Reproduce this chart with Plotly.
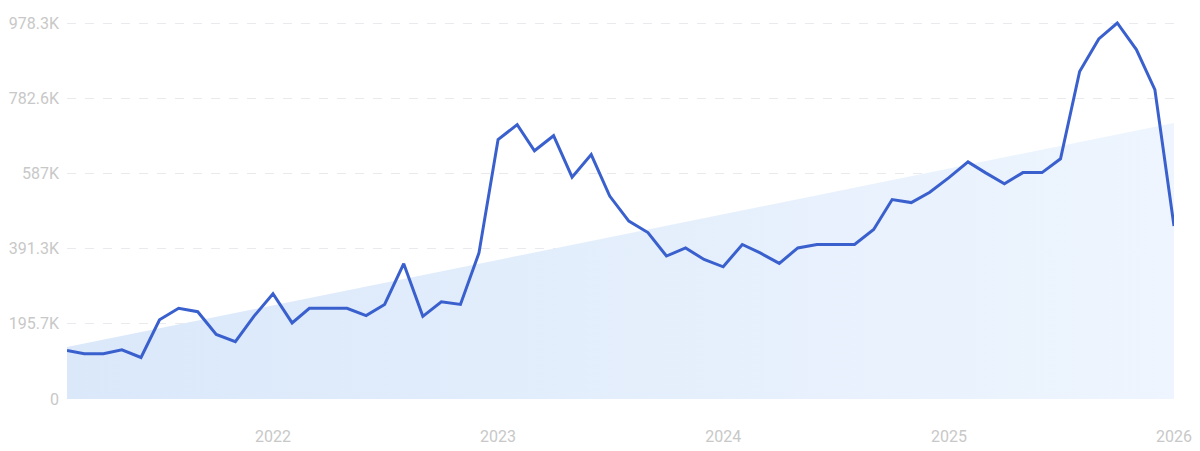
import plotly.graph_objects as go
import pandas as pd

months = pd.date_range("2021-02-01", "2026-01-01", freq="MS").strftime("%Y-%m-%d").tolist()

values = [
    126, 118, 118, 128, 108, 206, 236, 227, 168, 149, 215,
    274, 198, 236, 236, 236, 217, 246, 352, 215, 253, 246, 380,
    675, 714, 646, 685, 577, 636, 528, 463, 433, 372, 393, 363,
    344, 402, 380, 353, 393, 402, 402, 402, 441, 519, 511, 538,
    576, 617, 589, 560, 589, 589, 625, 852, 937, 978.3, 909, 805,
    450,
]
values = [v * 1000 for v in values]

trend_start = 135000
trend_end = 718000

y_tickvals = [0, 195660, 391320, 586980, 782640, 978300]
y_ticktext = ["0", "195.7K", "391.3K", "587K", "782.6K", "978.3K"]
x_tickvals = ["2022-01-01", "2023-01-01", "2024-01-01", "2025-01-01", "2026-01-01"]
x_ticktext = ["2022", "2023", "2024", "2025", "2026"]

fig = go.Figure()

fig.add_trace(go.Scatter(
    x=[months[0], months[-1]],
    y=[trend_start, trend_end],
    mode="lines",
    line=dict(width=0),
    fill="tozeroy",
    fillgradient=dict(
        type="horizontal",
        colorscale=[[0, "rgb(218,232,250)"], [1, "rgb(238,245,254)"]],
    ),
    hoverinfo="skip",
    showlegend=False,
))

fig.add_trace(go.Scatter(
    x=months,
    y=values,
    mode="lines",
    line=dict(color="rgb(58,96,206)", width=3),
    showlegend=False,
))

# page body has an 8px default margin, so the figure is sized to fit the window
fig.update_layout(
    width=1192,
    height=443,
    margin=dict(l=59, r=26, t=13, b=52),
    paper_bgcolor="white",
    plot_bgcolor="white",
    font=dict(family="Roboto, sans-serif", size=16, color="rgb(200,200,200)"),
)

fig.update_xaxes(
    type="date",
    range=[months[0], months[-1]],
    tickvals=x_tickvals,
    ticktext=x_ticktext,
    showgrid=False,
    zeroline=False,
    showline=False,
    ticks="",
    automargin=False,
    ticklabelstandoff=26,
    tickfont=dict(family="Roboto, sans-serif", size=16, color="rgb(200,200,200)"),
)

fig.update_yaxes(
    range=[0, 983500],
    tickvals=y_tickvals,
    ticktext=y_ticktext,
    showgrid=True,
    gridcolor="rgb(232,234,238)",
    griddash="dash",
    gridwidth=1,
    zeroline=False,
    showline=False,
    ticks="",
    automargin=False,
    ticklabelstandoff=7,
    tickfont=dict(family="Roboto, sans-serif", size=16, color="rgb(200,200,200)"),
)

fig.write_html("out.html")
